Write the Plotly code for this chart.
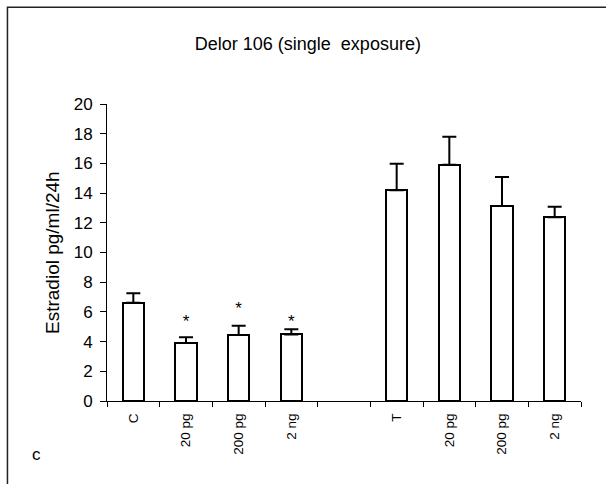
import plotly.graph_objects as go

# data
positions = [0, 1, 2, 3, 5, 6, 7, 8]
labels = ["C", "20 pg", "200 pg", "2 ng", "T", "20 pg", "200 pg", "2 ng"]
means = [6.61, 3.91, 4.45, 4.48, 14.2, 15.91, 13.13, 12.37]
errors = [0.65, 0.38, 0.61, 0.35, 1.78, 1.89, 1.95, 0.71]
star_y = [None, 5.3, 6.13, 5.3, None, None, None, None]
star_text = ["", "*", "*", "*", "", "", "", ""]
boundaries = [-0.5, 0.5, 1.5, 2.5, 3.5, 4.5, 5.5, 6.5, 7.5, 8.5]
y_ticks = [0, 2, 4, 6, 8, 10, 12, 14, 16, 18, 20]

FONT = "Arial, Liberation Sans, sans-serif"

fig = go.Figure()
fig.add_trace(go.Bar(
    x=positions, y=means, width=0.41,
    marker=dict(color="white", line=dict(color="black", width=2)),
    error_y=dict(type="data", array=errors, arrayminus=[0]*len(errors),
                 symmetric=False, color="black", thickness=2, width=7),
    showlegend=False,
))
fig.add_trace(go.Scatter(
    x=positions, y=star_y, text=star_text, mode="text",
    textfont=dict(family=FONT, size=17, color="black"),
    textposition="middle center", showlegend=False,
))

fig.update_layout(
    width=606, height=484,
    margin=dict(l=107, r=25, t=104, b=83, autoexpand=False),
    paper_bgcolor="white", plot_bgcolor="white",
    font=dict(family=FONT, color="black"),
    title=dict(text="Delor 106 (single  exposure)", x=0.508, y=0.909,
               xanchor="center", yanchor="middle",
               font=dict(family=FONT, size=18, color="black")),
    bargap=0,
)
fig.update_xaxes(
    range=[-0.5, 8.5], tickmode="array", tickvals=positions, ticktext=labels,
    tickangle=-90, ticks="", ticklen=0, tickfont=dict(size=13.5),
    showline=True, linecolor="black", linewidth=1, showgrid=False,
    zeroline=False, automargin=False, ticklabelstandoff=6,
    minor=dict(tickmode="array", tickvals=boundaries, ticks="outside",
               ticklen=5, tickcolor="black", tickwidth=1, showgrid=False),
)
fig.update_yaxes(
    range=[0, 20], tickmode="array", tickvals=y_ticks,
    ticks="outside", ticklen=6, tickcolor="black", tickwidth=1,
    tickfont=dict(size=17), showline=True, linecolor="black", linewidth=1,
    showgrid=False, zeroline=False, automargin=False, ticklabelstandoff=4,
)
fig.add_annotation(
    text="Estradiol pg/ml/24h", textangle=-90, xref="paper", yref="paper",
    x=-0.115, y=0.5, xanchor="center", yanchor="middle", showarrow=False,
    font=dict(family=FONT, size=19, color="black"),
)
fig.add_annotation(
    text="c", xref="paper", yref="paper", x=-0.148, y=-0.18,
    xanchor="center", yanchor="middle", showarrow=False,
    font=dict(family=FONT, size=17, color="black"),
)
fig.add_shape(
    type="rect", xref="paper", yref="paper",
    x0=-0.21, y0=-0.6, x1=1.2, y1=1.326,
    line=dict(color="#222", width=1.5), fillcolor="rgba(0,0,0,0)", layer="below",
)

fig.write_html("out.html")
